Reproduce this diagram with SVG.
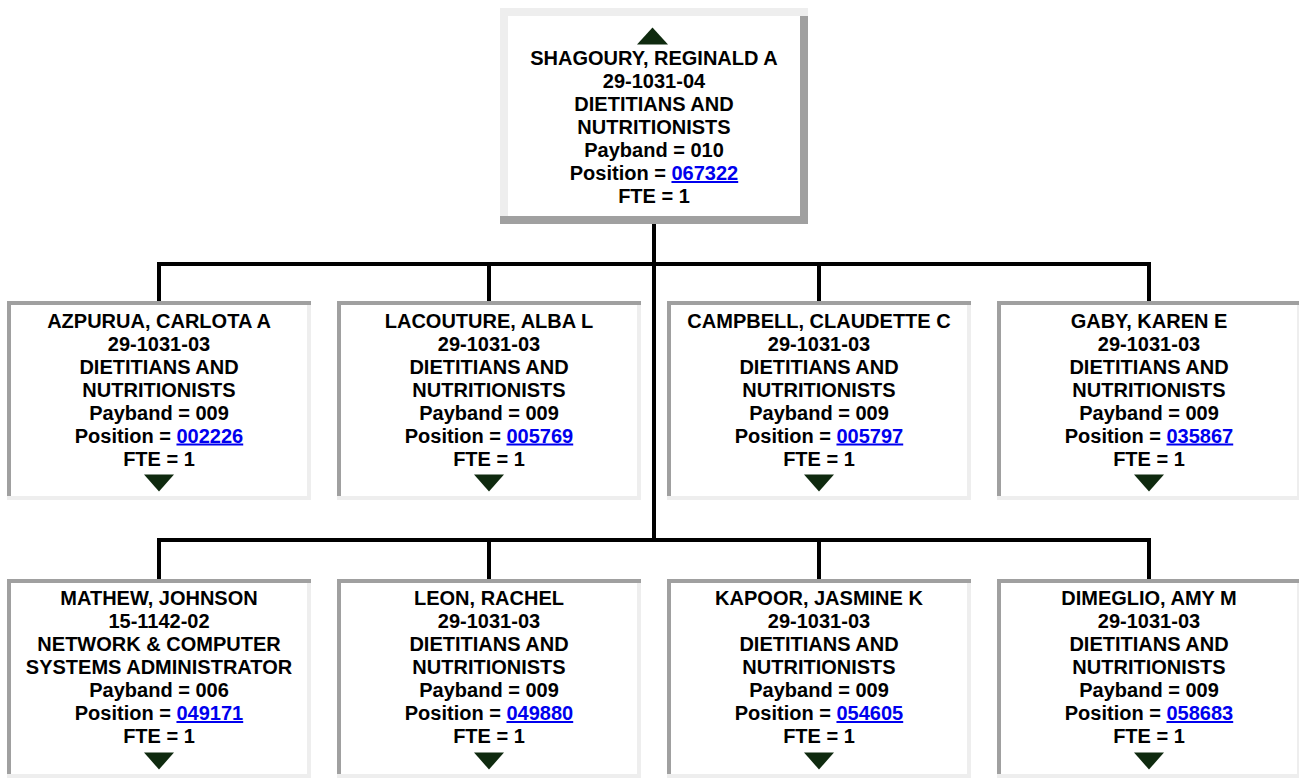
<svg xmlns="http://www.w3.org/2000/svg" width="1299" height="782" viewBox="0 0 1299 782">
<style>
.dk{fill:#a0a0a0}
.lt{fill:#eeeeee}
.in{fill:#ffffff}
.t{font-family:"Liberation Sans",Arial,sans-serif;font-weight:bold;font-size:20px;fill:#000;text-anchor:middle}
.lk{fill:#0000ee;text-decoration:underline}
.tri{fill:#0f2a0f}
.cn{stroke:#000;stroke-width:4;fill:none}
</style>
<defs>
<g id="childbox">
<rect class="lt" x="0" y="0" width="304" height="199"/>
<rect class="dk" x="0" y="0" width="304" height="4"/>
<rect class="dk" x="0" y="4" width="4" height="191"/>
<rect class="in" x="4" y="4" width="296" height="191"/>
</g>
<polygon id="down" class="tri" points="-15,173.5 15,173.5 0,190.5"/>
</defs>
<rect x="0" y="0" width="1299" height="782" fill="#ffffff"/>
<g id="connectors">
<line class="cn" x1="654" y1="224" x2="654" y2="541.5"/>
<line class="cn" x1="157" y1="264" x2="1151" y2="264"/>
<line class="cn" x1="159" y1="264" x2="159" y2="301"/>
<line class="cn" x1="489" y1="264" x2="489" y2="301"/>
<line class="cn" x1="819" y1="264" x2="819" y2="301"/>
<line class="cn" x1="1149" y1="264" x2="1149" y2="301"/>
<line class="cn" x1="157" y1="540" x2="1151" y2="540"/>
<line class="cn" x1="159" y1="540" x2="159" y2="579"/>
<line class="cn" x1="489" y1="540" x2="489" y2="579"/>
<line class="cn" x1="819" y1="540" x2="819" y2="579"/>
<line class="cn" x1="1149" y1="540" x2="1149" y2="579"/>
</g>
<g id="node-shagoury">
<rect class="dk" x="500" y="8" width="308" height="216"/>
<rect class="lt" x="500" y="8" width="308" height="8"/>
<rect class="lt" x="500" y="16" width="8" height="200"/>
<rect class="in" x="508" y="16" width="292" height="200"/>
<polygon class="tri" points="652.5,27.5 668,44.5 637,44.5"/>
<text class="t" x="654" y="65">SHAGOURY, REGINALD A</text>
<text class="t" x="654" y="88">29-1031-04</text>
<text class="t" x="654" y="111">DIETITIANS AND</text>
<text class="t" x="654" y="134">NUTRITIONISTS</text>
<text class="t" x="654" y="157">Payband = 010</text>
<text class="t" x="654" y="180">Position = <tspan class="lk">067322</tspan></text>
<text class="t" x="654" y="203">FTE = 1</text>
</g>
<g id="node-azpurua" transform="translate(7,301)">
<use href="#childbox"/>
<g transform="translate(152,0)">
<text class="t" x="0" y="26.5">AZPURUA, CARLOTA A</text>
<text class="t" x="0" y="49.5">29-1031-03</text>
<text class="t" x="0" y="72.5">DIETITIANS AND</text>
<text class="t" x="0" y="95.5">NUTRITIONISTS</text>
<text class="t" x="0" y="118.5">Payband = 009</text>
<text class="t" x="0" y="141.5">Position = <tspan class="lk">002226</tspan></text>
<text class="t" x="0" y="164.5">FTE = 1</text>
<use href="#down"/>
</g>
</g>
<g id="node-lacouture" transform="translate(337,301)">
<use href="#childbox"/>
<g transform="translate(152,0)">
<text class="t" x="0" y="26.5">LACOUTURE, ALBA L</text>
<text class="t" x="0" y="49.5">29-1031-03</text>
<text class="t" x="0" y="72.5">DIETITIANS AND</text>
<text class="t" x="0" y="95.5">NUTRITIONISTS</text>
<text class="t" x="0" y="118.5">Payband = 009</text>
<text class="t" x="0" y="141.5">Position = <tspan class="lk">005769</tspan></text>
<text class="t" x="0" y="164.5">FTE = 1</text>
<use href="#down"/>
</g>
</g>
<g id="node-campbell" transform="translate(667,301)">
<use href="#childbox"/>
<g transform="translate(152,0)">
<text class="t" x="0" y="26.5">CAMPBELL, CLAUDETTE C</text>
<text class="t" x="0" y="49.5">29-1031-03</text>
<text class="t" x="0" y="72.5">DIETITIANS AND</text>
<text class="t" x="0" y="95.5">NUTRITIONISTS</text>
<text class="t" x="0" y="118.5">Payband = 009</text>
<text class="t" x="0" y="141.5">Position = <tspan class="lk">005797</tspan></text>
<text class="t" x="0" y="164.5">FTE = 1</text>
<use href="#down"/>
</g>
</g>
<g id="node-gaby" transform="translate(997,301)">
<use href="#childbox"/>
<g transform="translate(152,0)">
<text class="t" x="0" y="26.5">GABY, KAREN E</text>
<text class="t" x="0" y="49.5">29-1031-03</text>
<text class="t" x="0" y="72.5">DIETITIANS AND</text>
<text class="t" x="0" y="95.5">NUTRITIONISTS</text>
<text class="t" x="0" y="118.5">Payband = 009</text>
<text class="t" x="0" y="141.5">Position = <tspan class="lk">035867</tspan></text>
<text class="t" x="0" y="164.5">FTE = 1</text>
<use href="#down"/>
</g>
</g>
<g id="node-mathew" transform="translate(7,579)">
<use href="#childbox"/>
<g transform="translate(152,0)">
<text class="t" x="0" y="26">MATHEW, JOHNSON</text>
<text class="t" x="0" y="49">15-1142-02</text>
<text class="t" x="0" y="72">NETWORK &amp; COMPUTER</text>
<text class="t" x="0" y="95">SYSTEMS ADMINISTRATOR</text>
<text class="t" x="0" y="118">Payband = 006</text>
<text class="t" x="0" y="141">Position = <tspan class="lk">049171</tspan></text>
<text class="t" x="0" y="164">FTE = 1</text>
<use href="#down"/>
</g>
</g>
<g id="node-leon" transform="translate(337,579)">
<use href="#childbox"/>
<g transform="translate(152,0)">
<text class="t" x="0" y="26">LEON, RACHEL</text>
<text class="t" x="0" y="49">29-1031-03</text>
<text class="t" x="0" y="72">DIETITIANS AND</text>
<text class="t" x="0" y="95">NUTRITIONISTS</text>
<text class="t" x="0" y="118">Payband = 009</text>
<text class="t" x="0" y="141">Position = <tspan class="lk">049880</tspan></text>
<text class="t" x="0" y="164">FTE = 1</text>
<use href="#down"/>
</g>
</g>
<g id="node-kapoor" transform="translate(667,579)">
<use href="#childbox"/>
<g transform="translate(152,0)">
<text class="t" x="0" y="26">KAPOOR, JASMINE K</text>
<text class="t" x="0" y="49">29-1031-03</text>
<text class="t" x="0" y="72">DIETITIANS AND</text>
<text class="t" x="0" y="95">NUTRITIONISTS</text>
<text class="t" x="0" y="118">Payband = 009</text>
<text class="t" x="0" y="141">Position = <tspan class="lk">054605</tspan></text>
<text class="t" x="0" y="164">FTE = 1</text>
<use href="#down"/>
</g>
</g>
<g id="node-dimeglio" transform="translate(997,579)">
<use href="#childbox"/>
<g transform="translate(152,0)">
<text class="t" x="0" y="26">DIMEGLIO, AMY M</text>
<text class="t" x="0" y="49">29-1031-03</text>
<text class="t" x="0" y="72">DIETITIANS AND</text>
<text class="t" x="0" y="95">NUTRITIONISTS</text>
<text class="t" x="0" y="118">Payband = 009</text>
<text class="t" x="0" y="141">Position = <tspan class="lk">058683</tspan></text>
<text class="t" x="0" y="164">FTE = 1</text>
<use href="#down"/>
</g>
</g>
</svg>
